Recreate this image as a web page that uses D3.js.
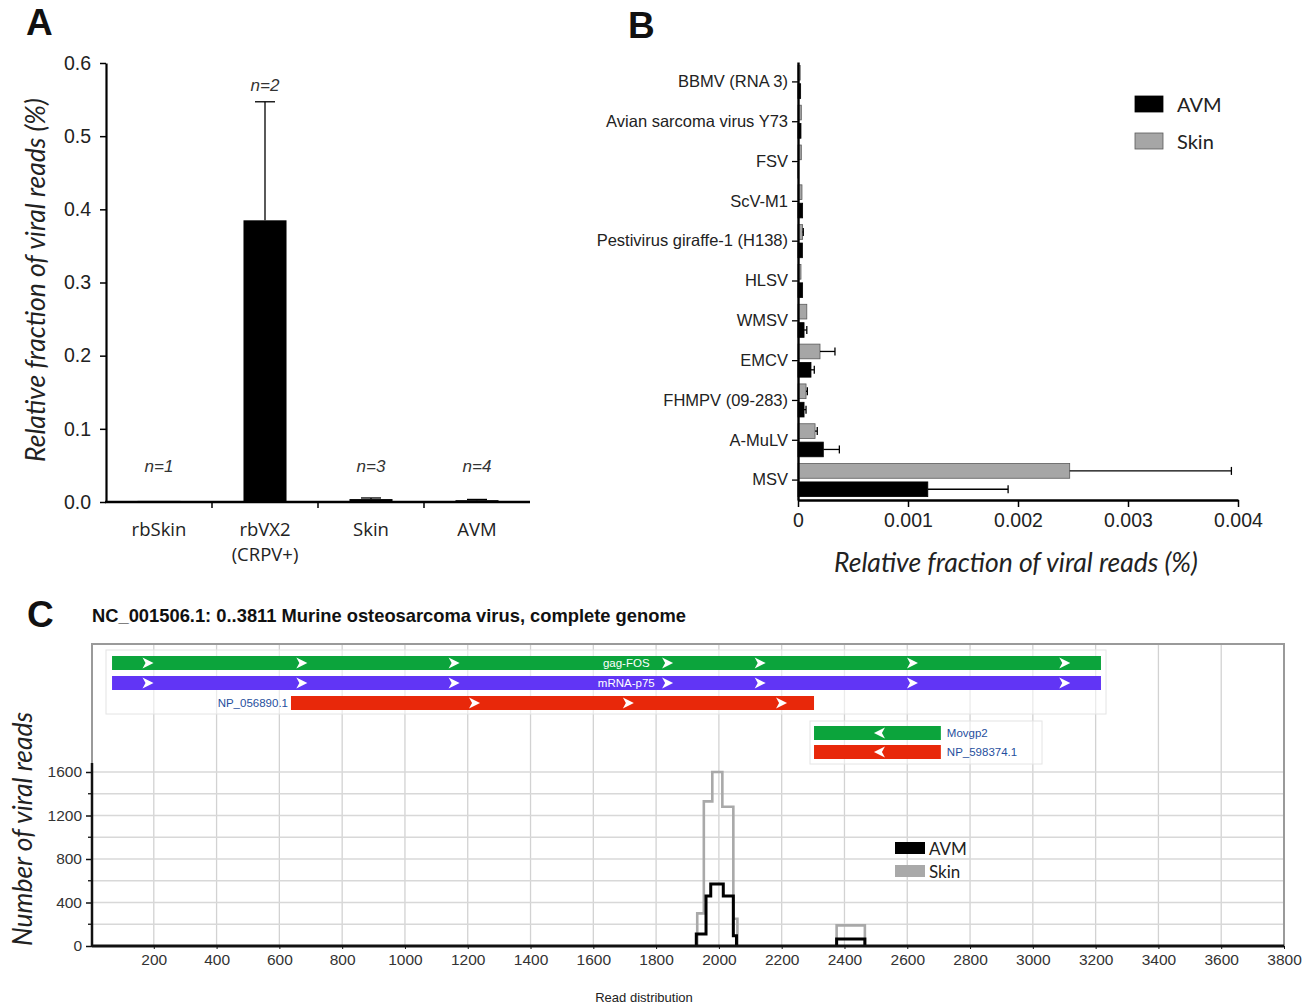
<!DOCTYPE html>
<html><head><meta charset="utf-8">
<script src="https://cdn.jsdelivr.net/npm/d3@7"></script>
<style>body{margin:0;background:#fff} svg{display:block}</style>
</head><body>
<svg id="c" width="1314" height="1007"></svg>
<script>
// ---------- Panel A data ----------
const aCategories = ["rbSkin", "rbVX2", "Skin", "AVM"];
const aSubLabels = ["", "(CRPV+)", "", ""];
const aValues = [0.0015, 0.385, 0.004, 0.0025];
const aErrors = [0, 0.162, 0.0015, 0.001];
const aN = ["n=1", "n=2", "n=3", "n=4"];
const aTicks = [0, 0.1, 0.2, 0.3, 0.4, 0.5, 0.6];

// ---------- Panel B data ----------
const bCategories = ["BBMV (RNA 3)", "Avian sarcoma virus Y73", "FSV", "ScV-M1",
  "Pestivirus giraffe-1 (H138)", "HLSV", "WMSV", "EMCV", "FHMPV (09-283)", "A-MuLV", "MSV"];
const bSeries = ["Skin", "AVM"];
const bSkin    = [0.00002, 0.00003, 0.00003, 0.000036, 0.000042, 0.000027, 0.00008, 0.0002, 0.000073, 0.000155, 0.00247];
const bSkinErr = [0, 0, 0, 0, 0.000006, 0, 0, 0.000136, 0.000012, 0.00002, 0.00147];
const bAVM     = [0.000024, 0.000027, 0.000006, 0.000042, 0.00004, 0.000042, 0.000055, 0.000118, 0.000055, 0.00023, 0.00118];
const bAVMErr  = [0, 0, 0, 0, 0, 0, 0.000025, 0.00003, 0.000018, 0.000146, 0.00073];
const bTicks = [0, 0.001, 0.002, 0.003, 0.004];

// ---------- Panel C data ----------
const cTitle = "NC_001506.1: 0..3811 Murine osteosarcoma virus, complete genome";
const geneNames  = ["gag-FOS", "mRNA-p75", "NP_056890.1", "Movgp2", "NP_598374.1"];
const geneStart  = [67, 67, 637, 2303, 2303];
const geneEnd    = [3217, 3217, 2303, 2707, 2707];
const geneStrand = [1, 1, 1, -1, -1];
const geneArrows = [
  [180, 670, 1155, 1835, 2130, 2615, 3100],
  [180, 670, 1155, 1835, 2130, 2615, 3100],
  [1220, 1710, 2198],
  [2513],
  [2513]
];
// read-depth steps: bin edges and counts per peak
const skinPeakEdges  = [[1931, 1952, 1979, 2011, 2046, 2059], [2375, 2465]];
const skinPeakCounts = [[300, 1330, 1600, 1280, 250], [190]];
const avmPeakEdges   = [[1928, 1959, 1974, 2014, 2046, 2056], [2375, 2465]];
const avmPeakCounts  = [[110, 460, 570, 460, 95], [65]];
const cXTicks = d3.range(200, 3801, 200);
const cYTicks = [0, 400, 800, 1200, 1600];
const cYMinor = [200, 600, 1000, 1400];

// ---------- helpers ----------
const svg = d3.select("#c");
const ARIAL = "Arial, 'Liberation Sans', sans-serif";
const CAL = "Lato, 'Open Sans', sans-serif";
function fit(sel, w) {
  const len = sel.node().getComputedTextLength();
  const fs = parseFloat(sel.attr("font-size"));
  sel.attr("font-size", fs * w / len);
  return sel;
}
function panelLabel(t, x, y) {
  svg.append("text").attr("x", x).attr("y", y).text(t)
    .attr("font-family", ARIAL).attr("font-weight", "bold").attr("font-size", 37).attr("fill", "#111");
}

// =============== PANEL A ===============
panelLabel("A", 26, 35);
const gA = svg.append("g");
const xA = d3.scaleBand().domain(aCategories).range([106, 530]).paddingInner(0.594).paddingOuter(0.297);
const yA = d3.scaleLinear().domain([0, 0.6]).range([502, 63]);

gA.selectAll("rect.bar").data(aCategories).join("rect")
  .attr("x", d => xA(d)).attr("width", xA.bandwidth())
  .attr("y", (d, i) => yA(aValues[i])).attr("height", (d, i) => yA(0) - yA(aValues[i]))
  .attr("fill", "#000");
aCategories.forEach((c, i) => {
  if (aErrors[i] > 0) {
    const cx = xA(c) + xA.bandwidth() / 2;
    const y1 = yA(aValues[i] + aErrors[i]);
    gA.append("line").attr("x1", cx).attr("x2", cx).attr("y1", yA(aValues[i])).attr("y2", y1)
      .attr("stroke", "#000").attr("stroke-width", 1.3);
    gA.append("line").attr("x1", cx - 10).attr("x2", cx + 10).attr("y1", y1).attr("y2", y1)
      .attr("stroke", "#000").attr("stroke-width", 1.3);
  }
  const ny = Math.min(yA(aValues[i] + aErrors[i]) - 16, 466);
  gA.append("text").attr("x", xA(c) + xA.bandwidth() / 2).attr("y", ny).text(aN[i])
    .attr("text-anchor", "middle").attr("dominant-baseline", "central")
    .attr("font-family", ARIAL).attr("font-style", "italic").attr("font-size", 17).attr("fill", "#333");
});
// y axis
const axA = gA.append("g").attr("transform", "translate(106,0)")
  .call(d3.axisLeft(yA).tickValues(aTicks).tickFormat(d3.format(".1f")).tickSize(6).tickSizeOuter(0).tickPadding(9));
axA.select(".domain").attr("stroke-width", 2.2);
axA.selectAll(".tick line").attr("stroke-width", 1.5);
axA.selectAll("text").attr("font-family", ARIAL).attr("font-size", 19.5).attr("fill", "#222");
// x axis line and boundary ticks
gA.append("line").attr("x1", 105).attr("x2", 530).attr("y1", 502).attr("y2", 502).attr("stroke", "#000").attr("stroke-width", 2.5);
d3.range(1, 4).forEach(i => {
  const bx = xA.range()[0] + i * xA.step();
  gA.append("line").attr("x1", bx).attr("x2", bx).attr("y1", 502).attr("y2", 508).attr("stroke", "#000").attr("stroke-width", 1.5);
});
aCategories.forEach((c, i) => {
  const cx = xA(c) + xA.bandwidth() / 2;
  gA.append("text").attr("x", cx).attr("y", 528).text(c).attr("text-anchor", "middle").attr("dominant-baseline", "central")
    .attr("font-family", "'Open Sans', sans-serif").attr("font-size", 18.5).attr("fill", "#222");
  if (aSubLabels[i]) gA.append("text").attr("x", cx).attr("y", 553).text(aSubLabels[i]).attr("text-anchor", "middle").attr("dominant-baseline", "central")
    .attr("font-family", "'Open Sans', sans-serif").attr("font-size", 18.5).attr("fill", "#222");
});
const tA = gA.append("text").attr("transform", "translate(35,280) rotate(-90)").text("Relative fraction of viral reads (%)")
  .attr("text-anchor", "middle").attr("dominant-baseline", "central")
  .attr("font-family", CAL).attr("font-style", "italic").attr("font-size", 22).attr("fill", "#222");
fit(tA, 364);

// =============== PANEL B ===============
panelLabel("B", 628, 38);
const gB = svg.append("g");
const xB = d3.scaleLinear().domain([0, 0.004]).range([798, 1238]);
const yB = d3.scaleBand().domain(bCategories).range([62, 500]).paddingInner(0.17).paddingOuter(0.085);
const sB = d3.scaleBand().domain(bSeries).range([0, yB.bandwidth()]).paddingInner(0.2);
const bVals = { Skin: bSkin, AVM: bAVM };
const bErrs = { Skin: bSkinErr, AVM: bAVMErr };
const bFill = { Skin: "#a6a6a6", AVM: "#000" };
const bStroke = { Skin: "#5a5a5a", AVM: "#000" };
bSeries.forEach(s => {
  bCategories.forEach((c, i) => {
    const v = bVals[s][i], e = bErrs[s][i];
    const y0 = yB(c) + sB(s), h = sB.bandwidth();
    gB.append("rect").attr("x", xB(0)).attr("y", y0).attr("width", Math.max(0.5, xB(v) - xB(0))).attr("height", h)
      .attr("fill", bFill[s]).attr("stroke", bStroke[s]).attr("stroke-width", 0.8);
    if (e > 0) {
      const cy = y0 + h / 2;
      gB.append("line").attr("x1", xB(v)).attr("x2", xB(v + e)).attr("y1", cy).attr("y2", cy).attr("stroke", "#000").attr("stroke-width", 1.3);
      gB.append("line").attr("x1", xB(v + e)).attr("x2", xB(v + e)).attr("y1", cy - 4).attr("y2", cy + 4).attr("stroke", "#000").attr("stroke-width", 1.3);
    }
  });
});
const axBy = gB.append("g").attr("transform", "translate(798,0)")
  .call(d3.axisLeft(yB).tickSize(6).tickSizeOuter(0).tickPadding(4));
axBy.select(".domain").attr("stroke-width", 2.4);
axBy.selectAll(".tick line").attr("stroke-width", 1.3);
axBy.selectAll("text").attr("font-family", ARIAL).attr("font-size", 16.5).attr("fill", "#222");
const axBx = gB.append("g").attr("transform", "translate(0,500)")
  .call(d3.axisBottom(xB).tickValues(bTicks).tickFormat(d => d === 0 ? "0" : d3.format(".3f")(d)).tickSize(7).tickSizeOuter(0).tickPadding(6));
axBx.select(".domain").attr("stroke-width", 2.6);
axBx.selectAll(".tick line").attr("stroke-width", 1.5);
axBx.selectAll("text").attr("font-family", ARIAL).attr("font-size", 19.5).attr("fill", "#222");
const tB = gB.append("text").attr("x", 1016).attr("y", 562).text("Relative fraction of viral reads (%)")
  .attr("text-anchor", "middle").attr("dominant-baseline", "central")
  .attr("font-family", CAL).attr("font-style", "italic").attr("font-size", 22).attr("fill", "#222");
fit(tB, 364);
// legend B
["AVM", "Skin"].forEach((s, i) => {
  const ly = 104 + i * 37;
  gB.append("rect").attr("x", 1135).attr("y", ly - 8).attr("width", 28).attr("height", 16)
    .attr("fill", bFill[s]).attr("stroke", bStroke[s]).attr("stroke-width", 0.8);
  gB.append("text").attr("x", 1177).attr("y", ly).text(s).attr("dominant-baseline", "central")
    .attr("font-family", CAL).attr("font-size", 20).attr("fill", "#222");
});

// =============== PANEL C ===============
panelLabel("C", 27, 627);
const gC = svg.append("g");
const tC = gC.append("text").attr("x", 92).attr("y", 622).text(cTitle)
  .attr("font-family", ARIAL).attr("font-weight", "bold").attr("font-size", 16).attr("fill", "#111");
fit(tC, 594);
const xC = d3.scaleLinear().domain([0, 3800]).range([91, 1284]);
const yC = d3.scaleLinear().domain([0, 1600]).range([946, 772]);
const frame = { l: 92, r: 1284, t: 644, b: 946 };
// grid
cXTicks.filter(v => v < 3800).forEach(v => {
  gC.append("line").attr("x1", xC(v)).attr("x2", xC(v)).attr("y1", frame.t).attr("y2", frame.b)
    .attr("stroke", "#d2d2d2").attr("stroke-width", 1.3);
});
d3.range(200, 1601, 200).forEach(v => {
  gC.append("line").attr("x1", frame.l).attr("x2", frame.r).attr("y1", yC(v)).attr("y2", yC(v))
    .attr("stroke", "#d8d8d8").attr("stroke-width", 1.3);
});
gC.append("rect").attr("x", frame.l).attr("y", frame.t).attr("width", frame.r - frame.l).attr("height", frame.b - frame.t)
  .attr("fill", "none").attr("stroke", "#9a9a9a").attr("stroke-width", 2);
// feature group boxes
gC.append("rect").attr("x", 106).attr("y", 650).attr("width", 1000).attr("height", 64)
  .attr("fill", "#fff").attr("fill-opacity", 0.55).attr("stroke", "#e4e4e4").attr("stroke-width", 1);
gC.append("rect").attr("x", 810).attr("y", 721).attr("width", 232).attr("height", 43)
  .attr("fill", "#fff").attr("fill-opacity", 0.55).attr("stroke", "#e4e4e4").attr("stroke-width", 1);
// genes
const geneColor = { "gag-FOS": "#0ca43c", "mRNA-p75": "#6135f5", "NP_056890.1": "#e8280a", "Movgp2": "#0ca43c", "NP_598374.1": "#e8280a" };
const geneRowY = [656, 676, 696, 726, 745];
const geneH = 14;
geneNames.forEach((g, i) => {
  const y = geneRowY[i];
  gC.append("rect").attr("x", xC(geneStart[i])).attr("y", y).attr("width", xC(geneEnd[i]) - xC(geneStart[i])).attr("height", geneH)
    .attr("fill", geneColor[g]);
  geneArrows[i].forEach(a => {
    gC.append("path").attr("d", "M-5,-5.5 L6,0 L-5,5.5 L-2,0 Z")
      .attr("transform", `translate(${xC(a)},${y + geneH / 2}) scale(${geneStrand[i]},1)`)
      .attr("fill", "#fff");
  });
  const lbl = gC.append("text").attr("y", y + geneH / 2).text(g).attr("dominant-baseline", "central")
    .attr("font-family", ARIAL).attr("font-size", 11.5);
  if (i < 2) {
    lbl.attr("x", xC(1705)).attr("text-anchor", "middle").attr("fill", "#fff");
  } else if (geneStrand[i] > 0) {
    lbl.attr("x", xC(geneStart[i]) - 3).attr("text-anchor", "end").attr("fill", "#1f4f9e");
  } else {
    lbl.attr("x", xC(geneEnd[i]) + 6).attr("text-anchor", "start").attr("fill", "#1f4f9e");
  }
});
// coverage steps
const stepLine = d3.line().x(d => xC(d[0])).y(d => yC(d[1])).curve(d3.curveStepAfter);
function stepPoints(edges, counts) {
  const pts = [[edges[0], 0]];
  counts.forEach((c, k) => pts.push([edges[k], c]));
  pts.push([edges[edges.length - 1], 0]);
  return pts;
}
skinPeakEdges.forEach((e, k) => {
  gC.append("path").attr("d", stepLine(stepPoints(e, skinPeakCounts[k])))
    .attr("fill", "none").attr("stroke", "#a9a9a9").attr("stroke-width", 2.6);
});
avmPeakEdges.forEach((e, k) => {
  gC.append("path").attr("d", stepLine(stepPoints(e, avmPeakCounts[k])))
    .attr("fill", "none").attr("stroke", "#000").attr("stroke-width", 3);
});
// axes
gC.append("line").attr("x1", frame.l).attr("x2", frame.l).attr("y1", yC(1683)).attr("y2", frame.b).attr("stroke", "#111").attr("stroke-width", 2.5);
const axCy = gC.append("g").attr("transform", `translate(${frame.l},0)`)
  .call(d3.axisLeft(yC).tickValues(cYTicks).tickFormat(d3.format("d")).tickSize(6).tickSizeOuter(0).tickPadding(4));
axCy.select(".domain").remove();
axCy.selectAll(".tick line").attr("stroke", "#111").attr("stroke-width", 1.5);
axCy.selectAll("text").attr("font-family", ARIAL).attr("font-size", 15.5).attr("fill", "#333");
cYMinor.forEach(v => gC.append("line").attr("x1", frame.l - 4).attr("x2", frame.l).attr("y1", yC(v)).attr("y2", yC(v)).attr("stroke", "#111").attr("stroke-width", 1.3));
gC.append("line").attr("x1", frame.l).attr("x2", frame.r).attr("y1", frame.b).attr("y2", frame.b).attr("stroke", "#111").attr("stroke-width", 3);
const axCx = gC.append("g").attr("transform", `translate(0,${frame.b})`)
  .call(d3.axisBottom(xC).tickValues(cXTicks).tickFormat(d3.format("d")).tickSize(3).tickSizeOuter(0).tickPadding(5));
axCx.select(".domain").remove();
axCx.selectAll(".tick line").attr("stroke", "#111");
axCx.selectAll("text").attr("font-family", ARIAL).attr("font-size", 15.5).attr("fill", "#333");
gC.append("text").attr("x", 644).attr("y", 997).text("Read distribution").attr("text-anchor", "middle").attr("dominant-baseline", "central")
  .attr("font-family", ARIAL).attr("font-size", 13).attr("fill", "#222");
const tCy = gC.append("text").attr("transform", "translate(22,829) rotate(-90)").text("Number of viral reads")
  .attr("text-anchor", "middle").attr("dominant-baseline", "central")
  .attr("font-family", CAL).attr("font-style", "italic").attr("font-size", 22).attr("fill", "#222");
fit(tCy, 234);
// legend C
[["AVM", "#000"], ["Skin", "#a9a9a9"]].forEach(([s, col], i) => {
  const ly = 848 + i * 23;
  gC.append("rect").attr("x", 895).attr("y", ly - 6).attr("width", 30).attr("height", 12).attr("fill", col);
  gC.append("text").attr("x", 929).attr("y", ly).text(s).attr("dominant-baseline", "central")
    .attr("font-family", CAL).attr("font-size", 17).attr("fill", "#222");
});
</script>
</body></html>
